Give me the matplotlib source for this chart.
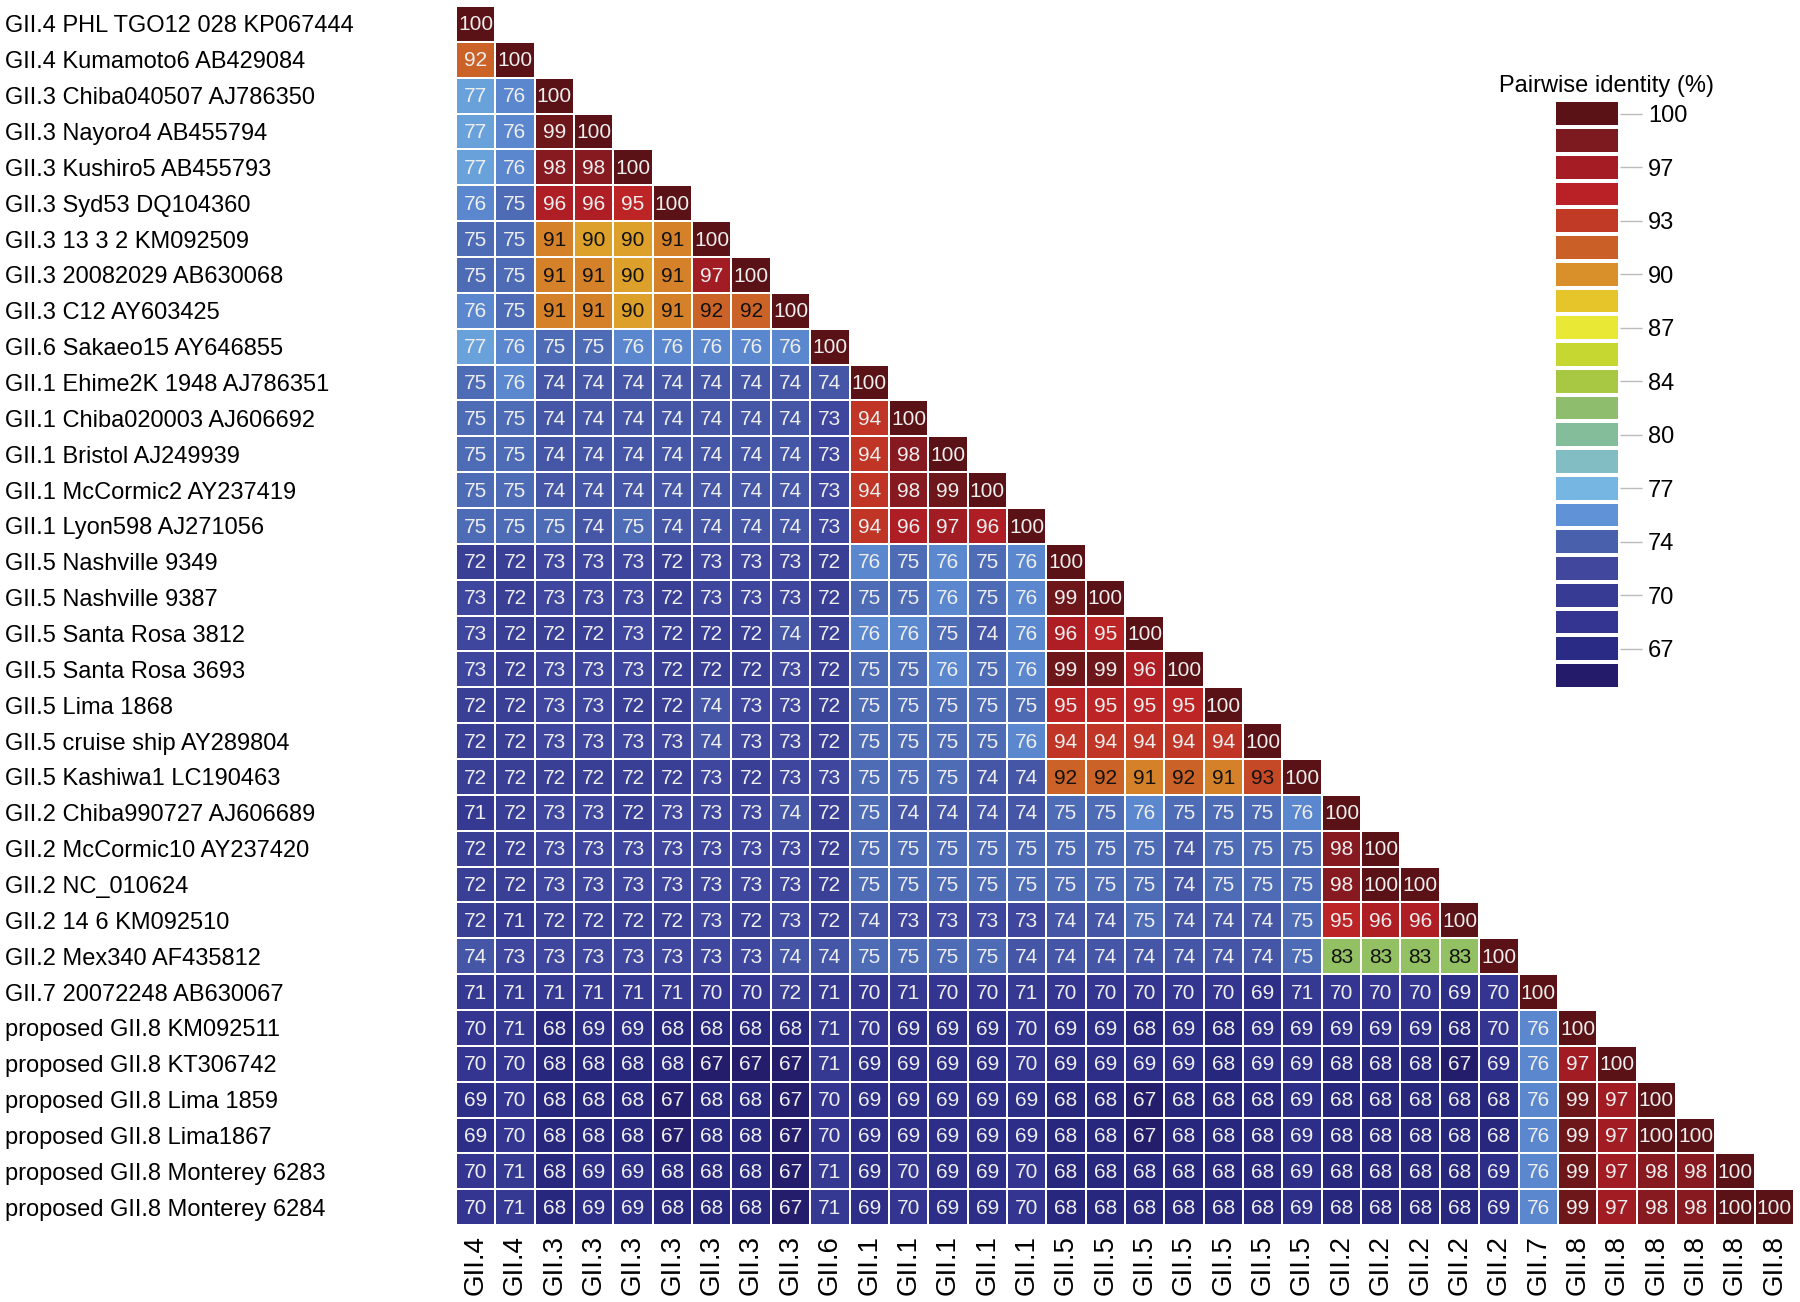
import numpy as np
import matplotlib
matplotlib.use('Agg')
import matplotlib.pyplot as plt
from matplotlib.colors import LinearSegmentedColormap, Normalize

# sequence names (rows) and genotype labels (columns)
names = [
    'GII.4 PHL TGO12 028 KP067444', 'GII.4 Kumamoto6 AB429084',
    'GII.3 Chiba040507 AJ786350', 'GII.3 Nayoro4 AB455794',
    'GII.3 Kushiro5 AB455793', 'GII.3 Syd53 DQ104360',
    'GII.3 13 3 2 KM092509', 'GII.3 20082029 AB630068',
    'GII.3 C12 AY603425', 'GII.6 Sakaeo15 AY646855',
    'GII.1 Ehime2K 1948 AJ786351', 'GII.1 Chiba020003 AJ606692',
    'GII.1 Bristol AJ249939', 'GII.1 McCormic2 AY237419',
    'GII.1 Lyon598 AJ271056', 'GII.5 Nashville 9349',
    'GII.5 Nashville 9387', 'GII.5 Santa Rosa 3812',
    'GII.5 Santa Rosa 3693', 'GII.5 Lima 1868',
    'GII.5 cruise ship AY289804', 'GII.5 Kashiwa1 LC190463',
    'GII.2 Chiba990727 AJ606689', 'GII.2 McCormic10 AY237420',
    'GII.2 NC_010624', 'GII.2 14 6 KM092510',
    'GII.2 Mex340 AF435812', 'GII.7 20072248 AB630067',
    'proposed GII.8 KM092511', 'proposed GII.8 KT306742',
    'proposed GII.8 Lima 1859', 'proposed GII.8 Lima1867',
    'proposed GII.8 Monterey 6283', 'proposed GII.8 Monterey 6284',
]
genotypes = ['GII.4'] * 2 + ['GII.3'] * 7 + ['GII.6'] + ['GII.1'] * 5 + \
    ['GII.5'] * 7 + ['GII.2'] * 5 + ['GII.7'] + ['GII.8'] * 6

# lower triangle of pairwise identity (%)
identity = [
    [100],
    [92, 100],
    [77, 76, 100],
    [77, 76, 99, 100],
    [77, 76, 98, 98, 100],
    [76, 75, 96, 96, 95, 100],
    [75, 75, 91, 90, 90, 91, 100],
    [75, 75, 91, 91, 90, 91, 97, 100],
    [76, 75, 91, 91, 90, 91, 92, 92, 100],
    [77, 76, 75, 75, 76, 76, 76, 76, 76, 100],
    [75, 76, 74, 74, 74, 74, 74, 74, 74, 74, 100],
    [75, 75, 74, 74, 74, 74, 74, 74, 74, 73, 94, 100],
    [75, 75, 74, 74, 74, 74, 74, 74, 74, 73, 94, 98, 100],
    [75, 75, 74, 74, 74, 74, 74, 74, 74, 73, 94, 98, 99, 100],
    [75, 75, 75, 74, 75, 74, 74, 74, 74, 73, 94, 96, 97, 96, 100],
    [72, 72, 73, 73, 73, 72, 73, 73, 73, 72, 76, 75, 76, 75, 76, 100],
    [73, 72, 73, 73, 73, 72, 73, 73, 73, 72, 75, 75, 76, 75, 76, 99, 100],
    [73, 72, 72, 72, 73, 72, 72, 72, 74, 72, 76, 76, 75, 74, 76, 96, 95, 100],
    [73, 72, 73, 73, 73, 72, 72, 72, 73, 72, 75, 75, 76, 75, 76, 99, 99, 96, 100],
    [72, 72, 73, 73, 72, 72, 74, 73, 73, 72, 75, 75, 75, 75, 75, 95, 95, 95, 95, 100],
    [72, 72, 73, 73, 73, 73, 74, 73, 73, 72, 75, 75, 75, 75, 76, 94, 94, 94, 94, 94, 100],
    [72, 72, 72, 72, 72, 72, 73, 72, 73, 73, 75, 75, 75, 74, 74, 92, 92, 91, 92, 91, 93, 100],
    [71, 72, 73, 73, 72, 73, 73, 73, 74, 72, 75, 74, 74, 74, 74, 75, 75, 76, 75, 75, 75, 76, 100],
    [72, 72, 73, 73, 73, 73, 73, 73, 73, 72, 75, 75, 75, 75, 75, 75, 75, 75, 74, 75, 75, 75, 98, 100],
    [72, 72, 73, 73, 73, 73, 73, 73, 73, 72, 75, 75, 75, 75, 75, 75, 75, 75, 74, 75, 75, 75, 98, 100, 100],
    [72, 71, 72, 72, 72, 72, 73, 72, 73, 72, 74, 73, 73, 73, 73, 74, 74, 75, 74, 74, 74, 75, 95, 96, 96, 100],
    [74, 73, 73, 73, 73, 73, 73, 73, 74, 74, 75, 75, 75, 75, 74, 74, 74, 74, 74, 74, 74, 75, 83, 83, 83, 83, 100],
    [71, 71, 71, 71, 71, 71, 70, 70, 72, 71, 70, 71, 70, 70, 71, 70, 70, 70, 70, 70, 69, 71, 70, 70, 70, 69, 70, 100],
    [70, 71, 68, 69, 69, 68, 68, 68, 68, 71, 70, 69, 69, 69, 70, 69, 69, 68, 69, 68, 69, 69, 69, 69, 69, 68, 70, 76, 100],
    [70, 70, 68, 68, 68, 68, 67, 67, 67, 71, 69, 69, 69, 69, 70, 69, 69, 69, 69, 68, 69, 69, 68, 68, 68, 67, 69, 76, 97, 100],
    [69, 70, 68, 68, 68, 67, 68, 68, 67, 70, 69, 69, 69, 69, 69, 68, 68, 67, 68, 68, 68, 69, 68, 68, 68, 68, 68, 76, 99, 97, 100],
    [69, 70, 68, 68, 68, 67, 68, 68, 67, 70, 69, 69, 69, 69, 69, 68, 68, 67, 68, 68, 68, 69, 68, 68, 68, 68, 68, 76, 99, 97, 100, 100],
    [70, 71, 68, 69, 69, 68, 68, 68, 67, 71, 69, 70, 69, 69, 70, 68, 68, 68, 68, 68, 68, 69, 68, 68, 68, 68, 69, 76, 99, 97, 98, 98, 100],
    [70, 71, 68, 69, 69, 68, 68, 68, 67, 71, 69, 70, 69, 69, 70, 68, 68, 68, 68, 68, 68, 69, 68, 68, 68, 68, 69, 76, 99, 97, 98, 98, 100, 100],
]

# legend bands (top = 100) and tick labels
band_colors = ['#5a1216', '#7d1a1f', '#a61c24', '#bb2126', '#c13b26', '#cb6228',
               '#d98f2b', '#e6c52a', '#e8e835', '#c6d731', '#a7c745', '#8ebe6b',
               '#84bd99', '#82bdc4', '#76b6e2', '#5f92d6', '#4a63ae', '#40489e',
               '#373b93', '#333590', '#2a2b85', '#241c6a']
tick_labels = ['100', '97', '93', '90', '87', '84', '80', '77', '74', '70', '67']

font = 'Liberation Sans'
n = len(names)
step = 1.65
centers = [100 - step * k for k in range(len(band_colors))]
vmin, vmax = centers[-1], centers[0]
pos = [(c - vmin) / (vmax - vmin) for c in centers[::-1]]
cmap = LinearSegmentedColormap.from_list('pid', list(zip(pos, band_colors[::-1])))
norm = Normalize(vmin=vmin, vmax=vmax)
cell_norm = Normalize(vmin=66.8, vmax=100, clip=True)

mat = np.full((n, n), np.nan)
for i, row in enumerate(identity):
    mat[i, :len(row)] = row
mmat = np.ma.masked_invalid(mat)

fig = plt.figure(figsize=(18, 13.02), dpi=100)
ax = fig.add_axes([0.2533, 0.059, 0.7434, 0.9364])
ax.pcolormesh(np.arange(n + 1), np.arange(n + 1), mmat, cmap=cmap, norm=cell_norm,
              edgecolors='white', linewidth=1.2)
ax.set_xlim(0, n)
ax.set_ylim(n, 0)
for s in ax.spines.values():
    s.set_visible(False)

for i, row in enumerate(identity):
    for j, v in enumerate(row):
        col = '#111111' if 80 <= v <= 93 and i > 1 else '#eeeeee'
        ax.text(j + 0.5, i + 0.53, str(v), ha='center', va='center',
                fontsize=15, color=col, family=font)

ax.set_yticks(np.arange(n) + 0.5)
ax.set_yticklabels(names, ha='left', fontsize=17, family=font)
ax.tick_params(axis='y', length=0, pad=325)
ax.set_xticks(np.arange(n) + 0.5)
ax.set_xticklabels(genotypes, rotation=90, va='top', fontsize=20, family=font)
ax.tick_params(axis='x', length=0, pad=7)

# discrete legend bar
cax = fig.add_axes([0.8633, 0.471, 0.0367, 0.452])
bands = np.array(centers).reshape(-1, 1)
cax.pcolormesh([0, 1], np.arange(len(centers) + 1), bands, cmap=cmap, norm=norm,
               edgecolors='white', linewidth=1.5)
cax.set_xlim(0, 1)
cax.set_ylim(len(centers), 0)
for s in cax.spines.values():
    s.set_visible(False)
cax.set_xticks([])
cax.yaxis.tick_right()
cax.set_yticks(np.arange(0, len(tick_labels) * 2, 2) + 0.5)
cax.set_yticklabels(tick_labels, fontsize=17, family=font)
cax.tick_params(axis='y', length=16, width=1, color='#bbbbbb', pad=4)
cax.set_title('Pairwise identity (%)', fontsize=17, family=font, pad=6, x=0.8)

fig.savefig('out.png', dpi=100)
